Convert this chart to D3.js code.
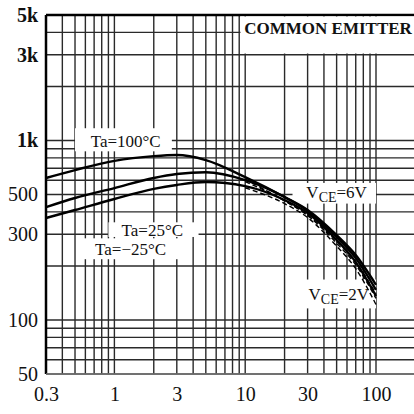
<!DOCTYPE html>
<html>
<head>
<meta charset="utf-8">
<script src="https://cdn.jsdelivr.net/npm/d3@7"></script>
<style>
	html, body { margin: 0; padding: 0; background: #fff; }
	svg { display: block; font-family: "Liberation Serif", "DejaVu Serif", serif; }
	.grid line { stroke: #2a2a2a; stroke-width: 1.4; }
	.axis text { fill: #111; }
	.curve { fill: none; stroke: #000; stroke-width: 2.4; }
	.curve2 { fill: none; stroke: #000; stroke-width: 1.4; stroke-dasharray: 5 3; }
	.note { fill: #111; font-size: 17px; }
</style>
</head>
<body>
<svg id="hfe" width="414" height="414"></svg>
<script>
// collector current, mA
const current = [0.3, 0.5, 1, 2, 3, 5, 10, 20, 30, 50, 70, 100];
// hFE at VCE = 6V
const hfe100 = [618, 684, 770, 818, 830, 778, 625, 484, 410, 297, 230, 157];
const hfe25 = [425, 478, 543, 618, 650, 665, 602, 484, 405, 290, 221, 147];
const hfeMinus25 = [370, 410, 472, 537, 565, 587, 557, 466, 394, 279, 210, 136];
// hFE at VCE = 2V, high current end only
const current2 = [10, 20, 30, 50, 70, 100];
const hfe100At2 = [610, 460, 385, 275, 210, 140];
const hfe25At2 = [590, 462, 382, 268, 203, 132];
const hfeMinus25At2 = [545, 445, 372, 258, 193, 122];

const xTicks = [0.3, 1, 3, 10, 30, 100];
const xTickLabels = ["0.3", "1", "3", "10", "30", "100"];
const yTicks = [50, 100, 300, 500, 1000, 3000, 5000];
const yTickLabels = ["50", "100", "300", "500", "1k", "3k", "5k"];

const Left = 46, Top = 15, Right = 414, Bottom = 374;

const chart = d3.select("#hfe");
const x = d3.scaleLog().domain([0.3, 100]).range([Left, 376]);
const y = d3.scaleLog().domain([50, 5000]).range([Bottom, Top]);

// log grid: 1..9 in every decade
const xGrid = [], yGrid = [];
[0.1, 1, 10, 100].forEach(d => d3.range(1, 10).forEach(m => {
	const v = +(d * m).toPrecision(3);
	if(v >= 0.3 && x(v) <= Right) xGrid.push(v);
}));
[10, 100, 1000].forEach(d => d3.range(1, 10).forEach(m => {
	const v = d * m;
	if(v >= 50 && v <= 5000) yGrid.push(v);
}));

const grid = chart.append("g").attr("class", "grid");
grid.selectAll("line.v").data(xGrid).enter().append("line").attr("class", "v")
	.attr("x1", d => x(d)).attr("x2", d => x(d)).attr("y1", Top).attr("y2", Bottom);
grid.selectAll("line.h").data(yGrid).enter().append("line").attr("class", "h")
	.attr("x1", Left).attr("x2", Right).attr("y1", d => y(d)).attr("y2", d => y(d));

// frame: heavy top and left edges, light bottom
chart.append("line").attr("x1", Left).attr("x2", Right).attr("y1", Top).attr("y2", Top).attr("stroke", "#000").attr("stroke-width", 2.5);
chart.append("line").attr("x1", Left).attr("x2", Left).attr("y1", Top).attr("y2", Bottom).attr("stroke", "#000").attr("stroke-width", 2.5);
chart.append("line").attr("x1", Left).attr("x2", Right).attr("y1", Bottom).attr("y2", Bottom).attr("stroke", "#777").attr("stroke-width", 1.5);

// white label boxes go over the grid, under the curves
function box(x0, y0, w, h) {
	chart.append("rect").attr("x", x0).attr("y", y0).attr("width", w).attr("height", h).attr("fill", "#fff");
}
box(x(9.2), Top + 1.5, Right - x(9.2), y(3050) - Top - 1.5);
box(x(0.5), y(1170), x(2.75) - x(0.5), y(870) - y(1170));
box(x(0.9), y(350), x(4.4) - x(0.9), y(290) - y(350));
box(x(0.58), y(285), x(3.1) - x(0.58), y(218) - y(285));
box(x(23), y(580), x(100) - x(23), y(445) - y(580));
box(x(26), y(168), x(100) - x(26), y(116) - y(168));

const line = d3.line().x(d => x(d[0])).y(d => y(d[1])).curve(d3.curveMonotoneX);
[hfe100, hfe25, hfeMinus25].forEach(s => {
	chart.append("path").attr("class", "curve").attr("d", line(d3.zip(current, s)));
});
[hfe100At2, hfe25At2, hfeMinus25At2].forEach(s => {
	chart.append("path").attr("class", "curve2").attr("d", line(d3.zip(current2, s)));
});

// axes
const yAxis = chart.append("g").attr("class", "axis").attr("transform", `translate(${Left - 5},0)`)
	.call(d3.axisLeft(y).tickValues(yTicks).tickSize(0).tickFormat((d, i) => yTickLabels[i]));
yAxis.select(".domain").remove();
yAxis.selectAll("text").attr("font-family", "Liberation Serif").attr("font-size", 20)
	.attr("font-weight", (d, i) => yTickLabels[i].endsWith("k") ? "bold" : null);
const xAxis = chart.append("g").attr("class", "axis").attr("transform", `translate(0,${Bottom + 10})`)
	.call(d3.axisBottom(x).tickValues(xTicks).tickSize(0).tickFormat((d, i) => xTickLabels[i]));
xAxis.select(".domain").remove();
xAxis.selectAll("text").attr("font-family", "Liberation Serif").attr("font-size", 20);

// annotations
function note(vx, vy, parts, anchor) {
	const t = chart.append("text").attr("class", "note").attr("x", x(vx)).attr("y", y(vy))
		.attr("dy", "0.35em").attr("text-anchor", anchor || "middle");
	parts.forEach(p => t.append("tspan").attr("baseline-shift", p[1] ? "-25%" : null)
		.attr("font-size", p[1] ? 14 : null).text(p[0]));
	return t;
}
note(43, 4250, [["COMMON  EMITTER"]]).attr("font-weight", "bold").attr("font-size", 15);
note(1.22, 990, [["Ta=100°C"]]).attr("font-size", 19);
note(1.95, 318, [["Ta=25°C"]]);
note(1.33, 248, [["Ta=−25°C"]]);
note(50, 515, [["V"], ["CE", true], ["=6V"]]);
note(52, 139, [["V"], ["CE", true], ["=2V"]]);
</script>
</body>
</html>
